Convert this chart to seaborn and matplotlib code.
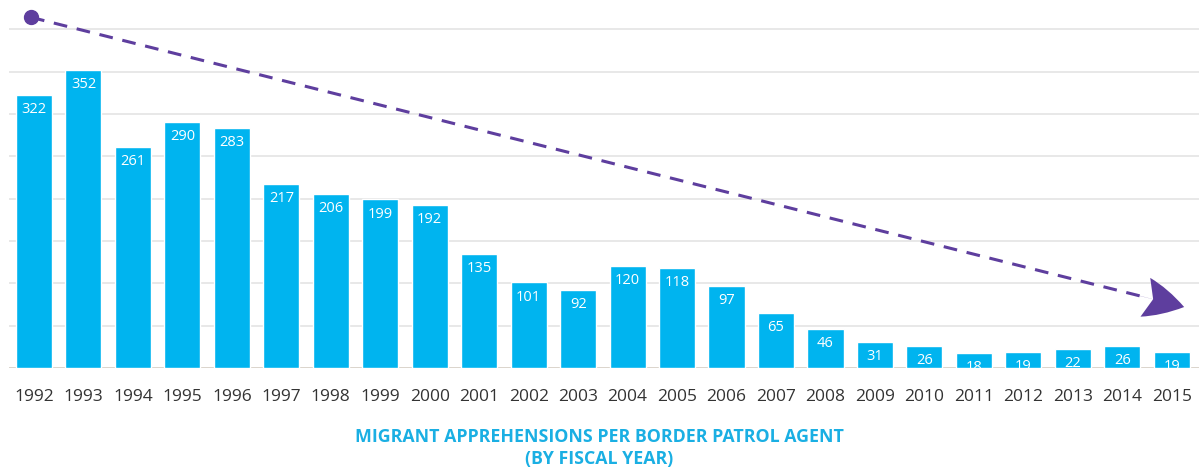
import matplotlib
matplotlib.use("Agg")
import matplotlib.pyplot as plt
import seaborn as sns
import pandas as pd

# Migrant apprehensions per border patrol agent, by fiscal year
years = [str(y) for y in range(1992, 2016)]
apprehensions = [322, 352, 261, 290, 283, 217, 206, 199, 192, 135, 101, 92,
                 120, 118, 97, 65, 46, 31, 26, 18, 19, 22, 26, 19]

# trend arrow endpoints (x in category index, y in data units)
trend_start = (-0.06, 414)
trend_end = (23.25, 72)

title_text = "MIGRANT APPREHENSIONS PER BORDER PATROL AGENT\n(BY FISCAL YEAR)"

BAR = "#00B4EF"
PURPLE = "#5E3E9E"
GRID = "#e1e1e1"

sns.set_theme(style="white")
plt.rcParams["font.family"] = ["Open Sans", "DejaVu Sans"]

df = pd.DataFrame({"year": years, "value": apprehensions})

fig = plt.figure(figsize=(11.99, 4.70), dpi=100)
ax = fig.add_axes([0.0077, 0.217, 0.9923, 0.757])

sns.barplot(data=df, x="year", y="value", color=BAR, saturation=1,
            width=0.73, ax=ax, zorder=2)

ax.set_xlim(-0.5, 23.55)
ax.set_ylim(0, 420)
ax.set_yticks(range(0, 401, 50))
ax.yaxis.grid(True, color=GRID, linewidth=1.1, zorder=0)
ax.set_axisbelow(True)
ax.axhline(0, color="#d9d2c8", linewidth=1.2, zorder=1)
for s in ax.spines.values():
    s.set_visible(False)
ax.set_yticklabels([])
ax.tick_params(axis="y", length=0)
ax.tick_params(axis="x", length=0, pad=15, labelsize=12.5, labelcolor="#333333")
ax.set_xlabel("")
ax.set_ylabel("")

# value labels inside each bar
for i, v in enumerate(apprehensions):
    ax.annotate(str(v), (i, v), xytext=(0, -10.5), textcoords="offset points",
                ha="center", va="center", color="white", fontsize=10.5,
                zorder=4)

# dashed downward trend with a solid head
sx, sy = trend_start
ex, ey = trend_end
frac = 0.962
mx, my = sx + (ex - sx) * frac, sy + (ey - sy) * frac
ax.plot([sx, mx], [sy, my], linestyle=(0, (4.5, 3.2)), color=PURPLE,
        linewidth=2.2, zorder=5, clip_on=False)
ax.plot([sx], [sy], marker="o", markersize=10, color=PURPLE, zorder=6,
        clip_on=False)
hx, hy = sx + (ex - sx) * 0.95, sy + (ey - sy) * 0.95
ax.annotate("", xy=(ex, ey), xytext=(hx, hy),
            arrowprops=dict(arrowstyle="fancy,head_length=1.6,head_width=1.6,tail_width=0.01",
                            color=PURPLE, lw=0, shrinkA=0, shrinkB=0,
                            mutation_scale=18),
            zorder=6, annotation_clip=False)

fig.text(0.5, 0.004, title_text, ha="center", va="bottom", color="#1AAFE3",
         fontsize=12.8, fontweight="bold", linespacing=1.3)

fig.savefig("out.png", dpi=100)
